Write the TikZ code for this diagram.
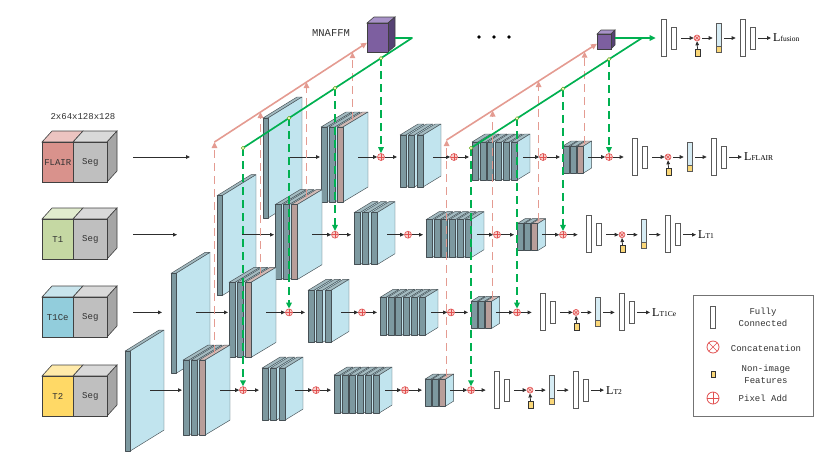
\documentclass[tikz,border=0pt]{standalone}
\usepackage{fontspec}
\setmainfont{Liberation Serif}
\newfontfamily\monof{Liberation Mono}
\usetikzlibrary{arrows.meta,calc}

\definecolor{tealF}{RGB}{125,153,160}
\definecolor{tealT}{RGB}{163,186,192}
\definecolor{sideblue}{RGB}{193,228,238}
\definecolor{pinkF}{RGB}{184,158,154}
\definecolor{pinkT}{RGB}{208,186,182}
\definecolor{slabedge}{RGB}{70,80,85}
\definecolor{pinkline}{RGB}{228,155,145}
\definecolor{greenline}{RGB}{0,176,80}
\definecolor{addred}{RGB}{225,80,80}
\definecolor{addfill}{RGB}{248,208,204}
\definecolor{arrgray}{RGB}{45,45,45}
\definecolor{fcgray}{RGB}{90,90,90}
\definecolor{ylw}{RGB}{250,215,120}
\definecolor{barblue}{RGB}{214,236,244}
\definecolor{flairF}{RGB}{217,146,140}
\definecolor{flairT}{RGB}{236,196,193}
\definecolor{tOneF}{RGB}{197,216,163}
\definecolor{tOneT}{RGB}{225,236,206}
\definecolor{tCeF}{RGB}{146,205,220}
\definecolor{tCeT}{RGB}{200,228,236}
\definecolor{tTwoF}{RGB}{255,217,102}
\definecolor{tTwoT}{RGB}{255,234,170}
\definecolor{segF}{RGB}{191,191,191}
\definecolor{segT}{RGB}{217,217,217}
\definecolor{segS}{RGB}{166,166,166}
\definecolor{purF}{RGB}{125,95,160}
\definecolor{purT}{RGB}{168,146,200}
\definecolor{purS}{RGB}{85,65,115}
\definecolor{txtgray}{RGB}{50,50,50}

\newcommand{\mySlab}[8]{%
  \filldraw[sl, fill=#8] (#1,#2) -- ++(#3,0) -- ++(#5,-#6) -- ++(-#3,0) -- cycle;
  \filldraw[sl, fill=sideblue] ({#1+#3},#2) -- ++(#5,-#6) -- ++(0,#4) -- ++(-#5,#6) -- cycle;
  \filldraw[sl, fill=#7] (#1,#2) rectangle ++(#3,#4);
}
\newcommand{\myBlock}[9]{%
  \foreach \i in {1,...,#3}{%
    \pgfmathsetmacro{\xx}{#1+(\i-1)*#4}%
    \def\fcol{tealF}\def\tcol{tealT}%
    \ifnum\i=#3\relax\ifnum#9=1\relax\def\fcol{pinkF}\def\tcol{pinkT}\fi\fi
    \mySlab{\xx}{#2}{#5}{#6}{#7}{#8}{\fcol}{\tcol}%
  }%
}
\newcommand{\myFC}[4]{%
  \begin{scope}[shift={(#1,#2)}]
    \node[fcbox, minimum height=37pt] (fa#3) at (2.5,-0.5) {};
    \node[fcbox, minimum height=22pt] (fb#3) at (12.5,0) {};
    \node[cat] (cx#3) at (36,0) {};
    \node[ybox] (yb#3) at (36.5,14.5) {};
    \node[barbox] (br#3) at (57.5,-0.5) {};
    \node[fcbox, minimum height=37pt] (fc#3) at (81.5,-0.5) {};
    \node[fcbox, minimum height=22pt] (fd#3) at (91.5,0) {};
    \node[anchor=west, inner sep=0pt] (lb#3) at (112,0) {#4};
    \draw[arr, shorten <=5pt] (fb#3.east) -- (cx#3.west);
    \draw[arr] (yb#3.north) -- (cx#3.south);
    \draw[arr, shorten <=2pt, shorten >=3pt] (cx#3.east) -- (cx#3.east -| br#3.west);
    \draw[arr, shorten <=3pt, shorten >=4pt] (br#3.east |- cx#3.east) -- (cx#3.east -| fc#3.west);
    \draw[arr, shorten <=3pt, shorten >=2pt] (fd#3.east) -- (lb#3.west |- fd#3.east);
  \end{scope}
}
\newcommand{\myRow}[3]{%
  \begin{scope}[shift={({-46*#2},{77.7*#2})}]
    \myBlock{263}{118}{1}{0}{5}{100}{34}{21}{0}
    \coordinate (s1o#1) at (288,157);
    \coordinate (s2i#1) at (320,157);
    \draw[arr] (s1o#1) -- (s2i#1);
    \myBlock{321}{127}{3}{8}{6}{75}{25}{15}{1}
    \coordinate (pt1#1) at (352.5,119.5);
    \coordinate (s2o#1) at (358,157);
    \node[padd] (pa1#1) at (381,157) {};
    \draw[arr] (s2o#1) -- (pa1#1);
    \coordinate (s3i#1) at (397,157);
    \draw[arr] (pa1#1) -- (s3i#1);
    \myBlock{400}{135}{3}{8.5}{6}{52}{18}{11}{0}
    \coordinate (s3o#1) at (433,157);
    \node[padd] (pa2#1) at (454,157) {};
    \draw[arr] (s3o#1) -- (pa2#1);
    \coordinate (s4i#1) at (469,157);
    \draw[arr] (pa2#1) -- (s4i#1);
    \myBlock{472}{142}{6}{7.8}{6}{38}{13}{8}{0}
    \coordinate (s4o#1) at (523,157);
    \node[padd] (pa3#1) at (543,157) {};
    \draw[arr] (s4o#1) -- (pa3#1);
    \coordinate (s5i#1) at (560,157);
    \draw[arr] (pa3#1) -- (s5i#1);
    \myBlock{563}{146}{3}{7.3}{6}{27}{8}{5}{1}
    \coordinate (pt2#1) at (584.6,143.5);
    \coordinate (s5o#1) at (588,157);
    \node[padd] (pa4#1) at (609,157) {};
    \draw[arr] (s5o#1) -- (pa4#1);
    \myFC{632}{157}{#1}{#3}
    \draw[arr, shorten >=8pt] (pa4#1.east) -- (pa4#1.east -| fa#1.west);
  \end{scope}
}
\newcommand{\myCube}[5]{%
  \filldraw[cubeedge, fill=#4] (42,#2) -- (52,{#2-11}) -- (83,{#2-11}) -- (73,#2) -- cycle;
  \filldraw[cubeedge, fill=segT] (73,#2) -- (83,{#2-11}) -- (117,{#2-11}) -- (107,#2) -- cycle;
  \filldraw[cubeedge, fill=segS] (107,#2) -- (117,{#2-11}) -- (117,{#2+29}) -- (107,{#2+40}) -- cycle;
  \node[cubeedge, fill=#3, minimum width=31pt, minimum height=40pt, inner sep=0pt, anchor=north west, txt] (in#1) at (42,#2) {#5};
  \node[cubeedge, fill=segF, minimum width=34pt, minimum height=40pt, inner sep=0pt, anchor=north west, txt] (sg#1) at (73,#2) {Seg};
}
\newcommand{\Llab}[1]{{\fontsize{12}{12}\selectfont L}{\fontsize{7.5}{8}\selectfont #1}}

\begin{document}
\begin{tikzpicture}[x=1pt,y=-1pt,
  sl/.style={draw=slabedge, line width=0.45pt, line join=round},
  arr/.style={draw=arrgray, line width=0.75pt, -{Triangle[length=4pt,width=3.6pt]}},
  padd/.style={circle, draw=addred, fill=addfill, line width=0.6pt, minimum size=7pt, inner sep=0pt,
    path picture={\draw[addred, line width=0.5pt] (path picture bounding box.north) -- (path picture bounding box.south)
      (path picture bounding box.west) -- (path picture bounding box.east);}},
  cat/.style={circle, draw=addred, fill=addfill, line width=0.6pt, minimum size=6pt, inner sep=0pt,
    path picture={\draw[addred, line width=0.5pt] (path picture bounding box.north west) -- (path picture bounding box.south east)
      (path picture bounding box.north east) -- (path picture bounding box.south west);}},
  fcbox/.style={draw=fcgray, fill=white, line width=0.7pt, minimum width=5pt, inner sep=0pt},
  ybox/.style={draw=black!80, fill=ylw, line width=0.5pt, minimum width=5pt, minimum height=7pt, inner sep=0pt},
  barbox/.style={draw=fcgray, fill=barblue, line width=0.6pt, minimum width=5pt, minimum height=29pt, inner sep=0pt,
    path picture={\fill[ylw] (path picture bounding box.south west) rectangle ([yshift=6pt]path picture bounding box.south east);
      \draw[fcgray, line width=0.5pt] ([yshift=6pt]path picture bounding box.south west) -- ([yshift=6pt]path picture bounding box.south east);}},
  cubeedge/.style={draw=black!75, line width=0.6pt},
  txt/.style={font=\monof\fontsize{9}{9}\selectfont, text=txtgray},
  pinksolid/.style={draw=pinkline, line width=1.6pt},
  pinkdash/.style={draw=pinkline, line width=1.4pt, dash pattern=on 8pt off 5pt},
  pinktip/.style={-{Triangle[length=6pt,width=5.5pt]}},
  greensolid/.style={draw=greenline, line width=1.7pt},
  greendash/.style={draw=greenline, line width=1.7pt, dash pattern=on 8pt off 5pt},
  greentip/.style={-{Triangle[length=6pt,width=5.5pt]}},
  gm/.style={circle, draw=greenline!50!yellow!80!black, fill=yellow!15, line width=0.5pt, minimum size=3.6pt, inner sep=0pt},
  dot/.style={circle, fill=black, minimum size=3.6pt, inner sep=0pt}
]
\useasboundingbox (0,0) rectangle (830,467);

% ---------- inputs ----------
\node[txt] (dims) at (83,117) {2x64x128x128};
\myCube{a}{142}{flairF}{flairT}{FLAIR}
\myCube{b}{219}{tOneF}{tOneT}{T1}
\myCube{c}{297}{tCeF}{tCeT}{T1Ce}
\myCube{d}{376}{tTwoF}{tTwoT}{T2}
\coordinate (iaS) at (133,157); \coordinate (iaE) at (190,157);
\coordinate (ibS) at (133,234.7); \coordinate (ibE) at (177,234.7);
\coordinate (icS) at (133,312.4); \coordinate (icE) at (162,312.4);
\draw[arr] (iaS) -- (iaE);
\draw[arr] (ibS) -- (ibE);
\draw[arr] (icS) -- (icE);

% ---------- four streams ----------
\myRow{a}{0}{\Llab{FLAIR}}
\myRow{b}{1}{\Llab{T1}}
\myRow{c}{2}{\Llab{T1Ce}}
\myRow{d}{3}{\Llab{T2}}

% ---------- MNAFFM cubes ----------
\node[font=\monof\fontsize{10.5}{11}\selectfont, text=txtgray] (mlab) at (331,33) {MNAFFM};
\filldraw[cubeedge, fill=purT] (367,23) -- (374,17) -- (395,17) -- (388,23) -- cycle;
\filldraw[cubeedge, fill=purS] (388,23) -- (395,17) -- (395,46) -- (388,52) -- cycle;
\node[cubeedge, fill=purF, minimum width=21pt, minimum height=29pt, inner sep=0pt, anchor=north west] (mc1) at (367,23) {};
\filldraw[cubeedge, fill=purT] (597,34) -- (601,30) -- (615,30) -- (611,34) -- cycle;
\filldraw[cubeedge, fill=purS] (611,34) -- (615,30) -- (615,45) -- (611,49) -- cycle;
\node[cubeedge, fill=purF, minimum width=14pt, minimum height=15pt, inner sep=0pt, anchor=north west] (mc2) at (597,34) {};
\node[dot] (e1) at (479,37) {};
\node[dot] (e2) at (494,37) {};
\node[dot] (e3) at (509,37) {};

% ---------- fusion head ----------
\myFC{661}{38}{f}{\Llab{fusion}}

% ---------- pink paths (group 1) ----------
\coordinate (pj1d) at (214.5,142);
\coordinate (pj1c) at (260.5,112.05);
\coordinate (pj1b) at (306.5,82.1);
\coordinate (pj1a) at (352.5,52.2);
\coordinate (pe1) at (367,42.7);
\draw[pinksolid, pinktip] (pj1d) -- (pe1);
\foreach \r in {a,b,c,d} \draw[pinkdash, pinktip] (pt1\r) -- (pj1\r);

% ---------- pink paths (group 2) ----------
\coordinate (pj2d) at (446.6,140);
\coordinate (pj2c) at (492.6,110.56);
\coordinate (pj2b) at (538.6,81.1);
\coordinate (pj2a) at (584.6,51.7);
\coordinate (pe2) at (597,43.7);
\draw[pinksolid, pinktip] (pj2d) -- (pe2);
\foreach \r in {a,b,c,d} \draw[pinkdash, pinktip] (pt2\r) -- (pj2\r);

% ---------- green paths (group 1) ----------
\coordinate (gs1) at (395,38);
\coordinate (gh1) at (412,38);
\coordinate (gj1a) at (381,58.2);
\coordinate (gj1b) at (335,88.1);
\coordinate (gj1c) at (289,118.1);
\coordinate (gj1d) at (243,148);
\draw[greensolid, line join=round] (gs1) -- (gh1) -- (gj1d);
\foreach \r in {a,b,c,d} \draw[greendash, greentip] (gj1\r) -- (pa1\r.north);
\foreach \r in {a,b,c,d} \node[gm] at (gj1\r) {};

% ---------- green paths (group 2) ----------
\coordinate (gs2) at (615,38);
\coordinate (gh2) at (642,38);
\coordinate (gj2a) at (609,59.2);
\coordinate (gj2b) at (563,88.8);
\coordinate (gj2c) at (517,118.4);
\coordinate (gj2d) at (471,148);
\draw[greensolid, -{Triangle[length=6pt,width=5.5pt]}, shorten >=5pt] (gs2) -- (gs2 -| faf.west);
\draw[greensolid] (gh2) -- (gj2d);
\foreach \r in {a,b,c,d} \draw[greendash, greentip] (gj2\r) -- (pa4\r.north);
\foreach \r in {a,b,c,d} \node[gm] at (gj2\r) {};

% ---------- legend ----------
\node[draw=black!55, line width=0.8pt, minimum width=120pt, minimum height=121pt, inner sep=0pt, anchor=north west] (leg) at (693,295) {};
\node[fcbox, minimum height=22pt, minimum width=4.5pt] (lfc) at (713,317) {};
\node[txt, align=center, font=\monof\fontsize{9}{12}\selectfont] (lfct) at (763,317) {Fully\\Connected};
\node[cat, fill=white, minimum size=12pt, line width=0.8pt] (lcat) at (713,347) {};
\node[txt] (lcatt) at (766,348) {Concatenation};
\node[ybox, minimum width=4.5pt, minimum height=6pt] (lyb) at (713,374) {};
\node[txt, align=center, font=\monof\fontsize{9}{12}\selectfont] (lybt) at (766,374.5) {Non-image\\Features};
\node[padd, fill=white, minimum size=12pt, line width=0.8pt] (lpa) at (713,398) {};
\node[txt] (lpat) at (763,398) {Pixel Add};
\end{tikzpicture}
\end{document}
